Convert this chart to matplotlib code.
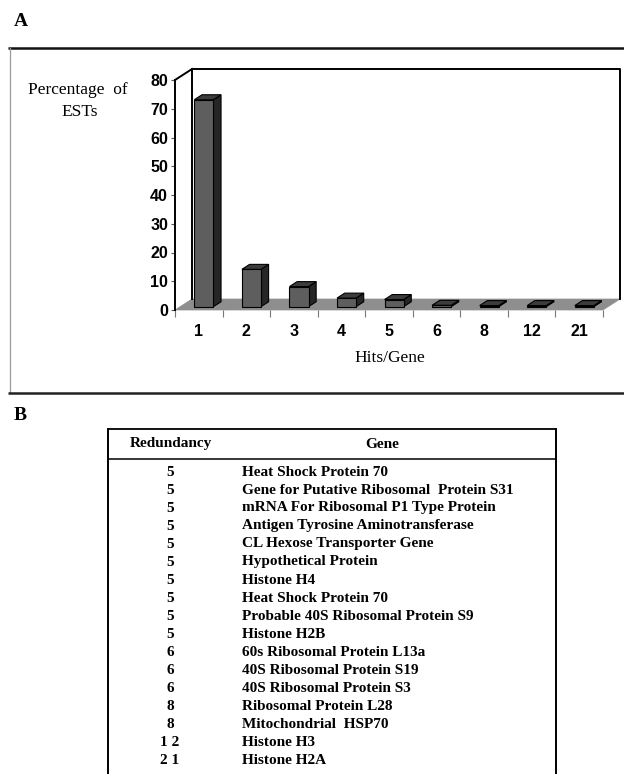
import matplotlib
matplotlib.use("Agg")
import matplotlib.pyplot as plt
from matplotlib.patches import Polygon

# ---------------- data ----------------
hits_labels = ["1", "2", "3", "4", "5", "6", "8", "12", "21"]
pct_ests = [72, 13, 7, 3, 2.5, 0.5, 0.4, 0.4, 0.4]
y_ticks = [0, 10, 20, 30, 40, 50, 60, 70, 80]

redundancy = [5, 5, 5, 5, 5, 5, 5, 5, 5, 5, 6, 6, 6, 8, 8, 12, 21]
genes = [
    "Heat Shock Protein 70",
    "Gene for Putative Ribosomal  Protein S31",
    "mRNA For Ribosomal P1 Type Protein",
    "Antigen Tyrosine Aminotransferase",
    "CL Hexose Transporter Gene",
    "Hypothetical Protein",
    "Histone H4",
    "Heat Shock Protein 70",
    "Probable 40S Ribosomal Protein S9",
    "Histone H2B",
    "60s Ribosomal Protein L13a",
    "40S Ribosomal Protein S19",
    "40S Ribosomal Protein S3",
    "Ribosomal Protein L28",
    "Mitochondrial  HSP70",
    "Histone H3",
    "Histone H2A",
]

W, H = 624, 774
SERIF = "Liberation Serif"
SANS = "Liberation Sans"

fig = plt.figure(figsize=(W / 100, H / 100), dpi=100)

# overlay axes in pixel coordinates (for frames, letters, table)
ov = fig.add_axes([0, 0, 1, 1])
ov.set_xlim(0, W)
ov.set_ylim(H, 0)
ov.axis("off")

# panel letters
ov.text(14, 21, "A", family=SERIF, fontsize=14, fontweight="bold", va="center", ha="left")
ov.text(14, 415, "B", family=SERIF, fontsize=14, fontweight="bold", va="center", ha="left")

# panel A frame
ov.plot([8, W], [48, 48], color="#111111", lw=1.8, solid_capstyle="butt")
ov.plot([9.5, 9.5], [48, 393], color="#9a9a9a", lw=0.9)
ov.plot([8, W], [393, 393], color="#222222", lw=1.8, solid_capstyle="butt")

# y label & x label
ov.text(78, 90, "Percentage  of", family=SERIF, fontsize=12.5, va="center", ha="center")
ov.text(80, 112, "ESTs", family=SERIF, fontsize=12.5, va="center", ha="center")
ov.text(390, 358, "Hits/Gene", family=SERIF, fontsize=12.5, va="center", ha="center")

# ---------------- bar chart (pseudo-3D) ----------------
L, R, B, T = 175, 603, 310, 80
ax = fig.add_axes([L / W, (H - B) / H, (R - L) / W, (B - T) / H])
n = len(hits_labels)
ax.set_xlim(-0.5, n - 0.5)
ax.set_ylim(0, 80)
ax.patch.set_alpha(0)

px_per_x = (R - L) / n
px_per_y = (B - T) / 80.0
DX = 17 / px_per_x
DY = 11 / px_per_y

x0, x1 = -0.5, n - 0.5
# floor
ax.add_patch(Polygon([(x0, 0), (x1, 0), (x1 + DX, DY), (x0 + DX, DY)],
                     closed=True, facecolor="#8e8e8e", edgecolor="#8e8e8e",
                     lw=0.5, clip_on=False, zorder=1))
# back wall + left wall outline
ax.plot([x0 + DX, x0 + DX, x1 + DX, x1 + DX], [DY, 80 + DY, 80 + DY, DY],
        color="black", lw=1.4, clip_on=False, zorder=1.5)
ax.plot([x0, x0 + DX], [80, 80 + DY], color="black", lw=1.4, clip_on=False, zorder=1.5)

# bars
f1, f2 = 0.3, 0.75
bw = 0.4
xs = list(range(n))
ax.bar([x + f1 * DX for x in xs], pct_ests, width=bw, bottom=f1 * DY,
       color="#5e5e5e", edgecolor="black", linewidth=0.8, zorder=3, clip_on=False)
ddx = (f2 - f1) * DX
ddy = (f2 - f1) * DY
for x, v in zip(xs, pct_ests):
    xl = x - bw / 2 + f1 * DX
    xr = x + bw / 2 + f1 * DX
    yb = f1 * DY
    yt = v + f1 * DY
    # side face
    ax.add_patch(Polygon([(xr, yb), (xr + ddx, yb + ddy), (xr + ddx, yt + ddy), (xr, yt)],
                         closed=True, facecolor="#262626", edgecolor="black",
                         lw=0.8, zorder=2.9, clip_on=False))
    # top face
    ax.add_patch(Polygon([(xl, yt), (xr, yt), (xr + ddx, yt + ddy), (xl + ddx, yt + ddy)],
                         closed=True, facecolor="#3c3c3c", edgecolor="black",
                         lw=0.8, zorder=3.1, clip_on=False))

# axes styling
for s in ["top", "right", "bottom"]:
    ax.spines[s].set_visible(False)
ax.spines["left"].set_linewidth(1.4)
ax.spines["left"].set_zorder(4)
ax.set_yticks(y_ticks)
ax.set_yticklabels([str(t) for t in y_ticks], family=SANS, fontweight="bold", fontsize=11.5)
ax.tick_params(axis="y", length=3, width=0.8, pad=2, color="#555555")
ax.set_xticks(xs)
ax.set_xticklabels(hits_labels, family=SANS, fontweight="bold", fontsize=11.5)
ax.tick_params(axis="x", which="major", length=0, pad=10)
ax.set_xticks([x - 0.5 for x in range(n + 1)], minor=True)
ax.tick_params(axis="x", which="minor", length=5, width=0.8, color="#777777", direction="out")

# ---------------- table ----------------
tl, tr, ttop, thead = 108, 556, 429, 459
ov.plot([tl, tr], [ttop, ttop], color="black", lw=1.3, solid_capstyle="butt")
ov.plot([tl, tr], [thead, thead], color="black", lw=1.1, solid_capstyle="butt")
ov.plot([tl, tl], [ttop, H], color="black", lw=1.4)
ov.plot([tr, tr], [ttop, H], color="black", lw=1.4)
ov.text(171, 444, "Redundancy", family=SERIF, fontsize=11, fontweight="bold",
        va="center", ha="center")
ov.text(382, 444, "Gene", family=SERIF, fontsize=11, fontweight="bold",
        va="center", ha="center")
row0, dy = 472, 18.0
for i, (r, g) in enumerate(zip(redundancy, genes)):
    y = row0 + i * dy
    ov.text(170, y, " ".join(str(r)), family=SERIF, fontsize=11, fontweight="bold",
            va="center", ha="center")
    ov.text(242, y, g, family=SERIF, fontsize=11, fontweight="bold",
            va="center", ha="left")

fig.savefig("out.png", dpi=100)
